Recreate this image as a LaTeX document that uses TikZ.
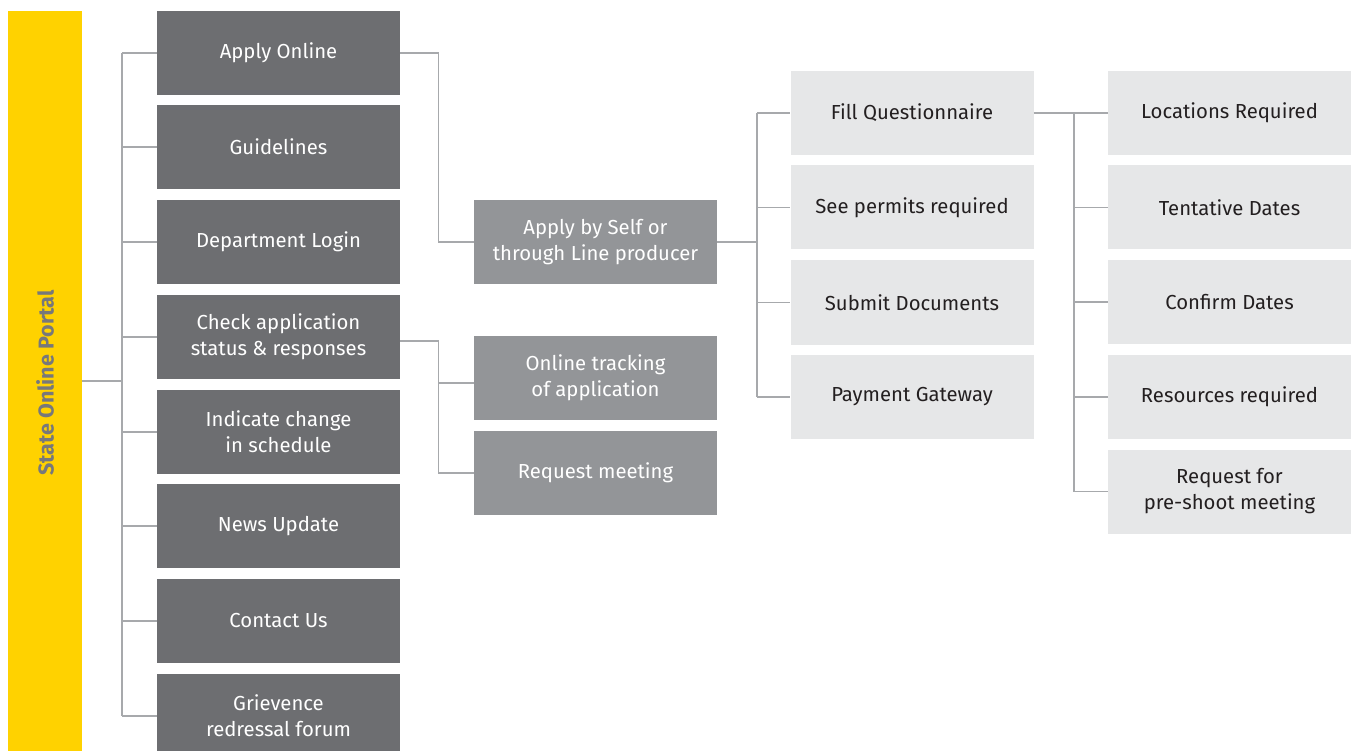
\documentclass[tikz,border=0pt]{standalone}
\usepackage{fontspec}
\setmainfont{Fira Sans}
\usetikzlibrary{positioning}
\definecolor{portalyellow}{HTML}{FFD200}
\definecolor{portaltext}{HTML}{77787B}
\definecolor{boxdark}{HTML}{6D6E71}
\definecolor{boxmid}{HTML}{939598}
\definecolor{boxlight}{HTML}{E6E7E8}
\definecolor{textdark}{HTML}{231F20}
\definecolor{linegrey}{HTML}{A7A9AC}
\begin{document}
\begin{tikzpicture}[x=1pt,y=-1pt,
  box/.style={minimum width=243pt,minimum height=84pt,inner sep=0pt,align=center,
    font=\fontsize{20.3}{26}\selectfont},
  dark/.style={box,fill=boxdark,text=white},
  mid/.style={box,fill=boxmid,text=white},
  light/.style={box,fill=boxlight,text=textdark},
  link/.style={draw=linegrey,line width=1.3pt}]
\useasboundingbox (0,0) rectangle (1354,751);
% portal bar
\node[fill=portalyellow,minimum width=74pt,minimum height=740pt,inner sep=0pt] (portal) at (45,381) {};
\node[rotate=90,text=portaltext,font=\fontsize{21.5}{24}\selectfont\bfseries] (portallbl) at (45,383) {State Online Portal};
% first column
\node[dark] (apply) at (278.5,53) {Apply Online};
\node[dark] (guide) at (278.5,147) {Guidelines};
\node[dark] (login) at (278.5,242) {Department Login};
\node[dark] (check) at (278.5,337) {Check application\\status \& responses};
\node[dark] (change) at (278.5,432) {Indicate change\\in schedule};
\node[dark] (news) at (278.5,526) {News Update};
\node[dark] (contact) at (278.5,621) {Contact Us};
\node[dark] (griev) at (278.5,716) {Grievence\\redressal forum};
% second column
\node[mid] (self) at (595.5,242) {Apply by Self or\\through Line producer};
\node[mid] (track) at (595.5,378) {Online tracking\\of application};
\node[mid] (meet) at (595.5,473) {Request meeting};
% third column
\node[light] (fill) at (912,113) {Fill Questionnaire};
\node[light] (permit) at (912,207.5) {See permits required};
\node[light] (submit) at (912,302.5) {Submit Documents};
\node[light] (pay) at (912,397) {Payment Gateway};
% fourth column
\node[light] (loc) at (1229.5,113) {Locations Required};
\node[light] (dates) at (1229.5,207.5) {Tentative Dates};
\node[light] (confirm) at (1229.5,302) {Confirm Dates};
\node[light] (res) at (1229.5,397) {Resources required};
\node[light] (preshoot) at (1229.5,491.5) {Request for\\pre-shoot meeting};
% connectors
\coordinate (busL) at (122,0);
\coordinate (busM) at (757,0);
\coordinate (busR) at (1074,0);
\draw[link] (portal.east) -- (portal.east -| busL);
\draw[link] (busL |- apply.west) -- (busL |- griev.west);
\foreach \n in {apply,guide,login,check,change,news,contact,griev}
  \draw[link] (busL |- \n.west) -- (\n.west);
\draw[link] (apply.east) -- ++(38,0) |- (self.west);
\draw[link] ([yshift=-4pt]check.east) -- ++(38,0) |- (meet.west);
\draw[link] ([yshift=-5pt]track.west) -- ++(-36,0);
\draw[link] (self.east) -- (self.east -| busM);
\draw[link] (busM |- fill.west) -- (busM |- pay.west);
\foreach \n in {fill,permit,submit,pay}
  \draw[link] (busM |- \n.west) -- (\n.west);
\draw[link] (fill.east) -- (fill.east -| busR);
\draw[link] (busR |- loc.west) -- (busR |- preshoot.west);
\foreach \n in {loc,dates,confirm,res,preshoot}
  \draw[link] (busR |- \n.west) -- (\n.west);
\end{tikzpicture}
\end{document}
